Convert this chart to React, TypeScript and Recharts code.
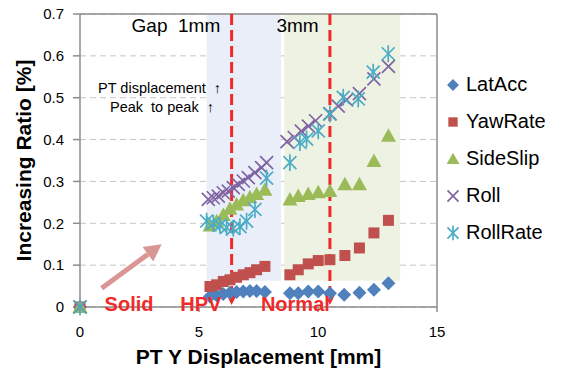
import React from "react";
import {
  ScatterChart,
  Scatter,
  XAxis,
  YAxis,
  CartesianGrid,
  ReferenceArea,
  ReferenceLine,
  ReferenceDot,
} from "recharts";

// [PT Y displacement mm, increasing ratio %]
const latAcc = [
  [0, 0], [5.46, 0.025], [5.74, 0.028], [6.02, 0.031], [6.3, 0.034], [6.58, 0.036],
  [6.86, 0.037], [7.14, 0.038], [7.42, 0.038], [7.77, 0.036], [8.82, 0.033], [9.17, 0.033],
  [9.59, 0.037], [10.01, 0.037], [10.5, 0.033], [11.1, 0.029], [11.74, 0.034], [12.35, 0.041],
  [12.96, 0.057],
];
const yawRate = [
  [0, 0], [5.46, 0.049], [5.74, 0.053], [6.02, 0.061], [6.3, 0.065], [6.58, 0.071],
  [6.86, 0.077], [7.14, 0.082], [7.42, 0.089], [7.77, 0.097], [8.82, 0.077], [9.17, 0.089],
  [9.59, 0.103], [10.01, 0.111], [10.5, 0.113], [11.13, 0.123], [11.74, 0.141], [12.35, 0.177],
  [12.96, 0.207],
];
const sideSlip = [
  [0, 0], [5.46, 0.195], [5.74, 0.205], [6.02, 0.22], [6.3, 0.235], [6.58, 0.245],
  [6.86, 0.255], [7.14, 0.262], [7.42, 0.27], [7.77, 0.28], [8.82, 0.257], [9.17, 0.265],
  [9.59, 0.27], [10.01, 0.274], [10.5, 0.277], [11.13, 0.293], [11.74, 0.293], [12.35, 0.349],
  [12.96, 0.409],
];
const roll = [
  [0, 0], [5.39, 0.257], [5.6, 0.261], [5.81, 0.265], [6.02, 0.273], [6.23, 0.277],
  [6.44, 0.285], [6.65, 0.293], [6.86, 0.301], [7.07, 0.309], [7.35, 0.321], [7.63, 0.333],
  [7.84, 0.345], [8.7, 0.395], [9.0, 0.405], [9.3, 0.42], [9.6, 0.432], [9.9, 0.445],
  [10.5, 0.462], [10.85, 0.48], [11.2, 0.495], [11.74, 0.51], [12.35, 0.545], [12.96, 0.575],
];
const rollRate = [
  [0, 0], [5.32, 0.205], [5.6, 0.2], [5.88, 0.195], [6.16, 0.19], [6.44, 0.188],
  [6.72, 0.192], [7.0, 0.205], [7.35, 0.233], [7.84, 0.308], [8.82, 0.345], [9.24, 0.393],
  [9.52, 0.401], [10.01, 0.421], [10.5, 0.461], [11.06, 0.501], [11.69, 0.497], [12.32, 0.561],
  [12.95, 0.605],
];

const xTicks = [0, 5, 10, 15];
const yTicks = [0, 0.1, 0.2, 0.3, 0.4, 0.5, 0.6, 0.7];

// shaded gap regions
const gapRegions = [
  { name: "1mm", x1: 5.32, x2: 8.45, y1: 0.063, fill: "#e9eef8" },
  { name: "3mm", x1: 8.58, x2: 13.45, y1: 0.063, fill: "#eef2e3" },
];
const markerLines = [6.37, 10.5];

const FONT = "'Liberation Sans', Arial, Helvetica, sans-serif";
const RED = "#f02a2a";

const toPts = (arr: number[][]) => arr.map(([x, y]) => ({ x, y }));

type MarkerKind = "diamond" | "square" | "triangle" | "x" | "star";

function Marker({ kind, cx, cy, color, s = 1 }: { kind: MarkerKind; cx: number; cy: number; color: string; s?: number }) {
  if (kind === "diamond") {
    const r = 7 * s;
    return <polygon points={`${cx},${cy - r} ${cx + r},${cy} ${cx},${cy + r} ${cx - r},${cy}`} fill={color} />;
  }
  if (kind === "square") {
    const h = 5.5 * s;
    return <rect x={cx - h} y={cy - h} width={h * 2} height={h * 2} fill={color} />;
  }
  if (kind === "triangle") {
    return (
      <polygon
        points={`${cx},${cy - 7.5 * s} ${cx + 7.5 * s},${cy + 6 * s} ${cx - 7.5 * s},${cy + 6 * s}`}
        fill={color}
      />
    );
  }
  const r = 6.5 * s;
  return (
    <g stroke={color} strokeWidth={1.7}>
      <line x1={cx - r} y1={cy - r} x2={cx + r} y2={cy + r} />
      <line x1={cx - r} y1={cy + r} x2={cx + r} y2={cy - r} />
      {kind === "star" && <line x1={cx} y1={cy - r * 1.3} x2={cx} y2={cy + r * 1.3} />}
    </g>
  );
}

const seriesList: { name: string; data: number[][]; color: string; kind: MarkerKind }[] = [
  { name: "LatAcc", data: latAcc, color: "#4f81bd", kind: "diamond" },
  { name: "YawRate", data: yawRate, color: "#c0504d", kind: "square" },
  { name: "SideSlip", data: sideSlip, color: "#9bbb59", kind: "triangle" },
  { name: "Roll", data: roll, color: "#8064a2", kind: "x" },
  { name: "RollRate", data: rollRate, color: "#4bacc6", kind: "star" },
];

function LegendBox() {
  return (
    <div style={{ position: "absolute", left: 443, top: 66, fontFamily: FONT, fontSize: 20, color: "#000" }}>
      {seriesList.map((s) => (
        <div key={s.name} style={{ height: 37, display: "flex", alignItems: "center" }}>
          <svg width={20} height={20} style={{ marginRight: 3 }}>
            <Marker kind={s.kind} cx={10} cy={10} color={s.color} s={0.85} />
          </svg>
          <span>{s.name}</span>
        </div>
      ))}
    </div>
  );
}

const textShape = (txt: string, size: number, opts: { bold?: boolean; color?: string; anchor?: string } = {}) =>
  (p: any) => (
    <text
      x={p.cx}
      y={p.cy}
      fontFamily={FONT}
      fontSize={size}
      fontWeight={opts.bold ? "bold" : "normal"}
      fill={opts.color || "#000"}
      textAnchor={opts.anchor || "middle"}
      dominantBaseline="central"
      style={{ whiteSpace: "pre" }}
    >
      {txt}
    </text>
  );

const dashedArrow = (p: any) => {
  const { x1, y1, x2, y2 } = p;
  const head = 13;
  return (
    <g>
      <line x1={x1} y1={y1} x2={x2} y2={y2 - head} stroke={RED} strokeWidth={3} strokeDasharray="11 5" />
      <polygon points={`${x2 - 6.5},${y2 - head} ${x2 + 6.5},${y2 - head} ${x2},${y2}`} fill={RED} />
    </g>
  );
};

const pinkArrow = (p: any) => {
  const { x1, y1, x2, y2 } = p;
  const dx = x2 - x1;
  const dy = y2 - y1;
  const len = Math.sqrt(dx * dx + dy * dy);
  const ux = dx / len;
  const uy = dy / len;
  const hl = 17;
  const hw = 9;
  const bx = x2 - ux * hl;
  const by = y2 - uy * hl;
  return (
    <g>
      <line x1={x1} y1={y1} x2={bx} y2={by} stroke="#d99694" strokeWidth={5} />
      <polygon
        points={`${x2},${y2} ${bx - uy * hw},${by + ux * hw} ${bx + uy * hw},${by - ux * hw}`}
        fill="#d99694"
      />
    </g>
  );
};

export default function App() {
  return (
    <div style={{ position: "relative", width: 562, height: 376, background: "#fff" }}>
      <style>{`body{margin:0}`}</style>
      <ScatterChart width={562} height={376} margin={{ top: 14, right: 125, bottom: 9, left: 10 }}>
        {gapRegions.map((g) => (
          <ReferenceArea
            key={g.name}
            x1={g.x1}
            x2={g.x2}
            y1={g.y1}
            y2={0.7}
            fill={g.fill}
            fillOpacity={1}
            stroke="none"
          />
        ))}
        <CartesianGrid vertical={false} stroke="#c6c6c6" strokeDasharray="6 4" />
        <XAxis
          type="number"
          dataKey="x"
          domain={[0, 15]}
          ticks={xTicks}
          height={60}
          tickSize={5}
          tickMargin={14}
          stroke="#8c8c8c"
          strokeWidth={1.5}
          tick={{ fill: "#000", fontSize: 15, fontFamily: FONT }}
          label={{
            value: "PT Y Displacement [mm]",
            position: "insideBottom",
            offset: 3,
            style: { fontFamily: FONT, fontSize: 21, fontWeight: "bold", fill: "#000" },
          }}
        />
        <YAxis
          type="number"
          dataKey="y"
          domain={[0, 0.7]}
          ticks={yTicks}
          width={70}
          tickSize={7}
          tickMargin={9}
          stroke="#8c8c8c"
          strokeWidth={1.5}
          tickFormatter={(v: number) => (v === 0 ? "0" : v.toFixed(1))}
          tick={{ fill: "#000", fontSize: 15, fontFamily: FONT }}
          label={{
            value: "Increasing Ratio [%]",
            angle: -90,
            position: "insideLeft",
            offset: 14,
            style: { textAnchor: "middle", fontFamily: FONT, fontSize: 21, fontWeight: "bold", fill: "#000" },
          }}
        />
        <ReferenceLine y={0.7} stroke="#8c8c8c" strokeWidth={1.5} />
        <ReferenceLine x={15} stroke="#8c8c8c" strokeWidth={1.5} />

        {markerLines.map((x) => (
          <ReferenceLine
            key={x}
            segment={[{ x, y: 0.7 }, { x, y: 0.005 }]}
            shape={dashedArrow}
          />
        ))}
        <ReferenceLine segment={[{ x: 0.91, y: 0.045 }, { x: 3.43, y: 0.15 }]} shape={pinkArrow} />

        <ReferenceDot x={4.03} y={0.672} r={0} shape={textShape("Gap  1mm", 19)} />
        <ReferenceDot x={9.14} y={0.672} r={0} shape={textShape("3mm", 19)} />
        <ReferenceDot x={0.76} y={0.523} r={0} shape={textShape("PT displacement  \u2191", 14.5, { anchor: "start" })} />
        <ReferenceDot x={1.26} y={0.479} r={0} shape={textShape("Peak  to peak  \u2191", 14.5, { anchor: "start" })} />

        {seriesList.map((s) => (
          <Scatter
            key={s.name}
            name={s.name}
            data={toPts(s.data)}
            fill={s.color}
            isAnimationActive={false}
            shape={(p: any) => <Marker kind={s.kind} cx={p.cx} cy={p.cy} color={s.color} />}
          />
        ))}
        <ReferenceDot x={2.06} y={0.007} r={0} shape={textShape("Solid", 20, { bold: true, color: RED })} />
        <ReferenceDot x={5.08} y={0.007} r={0} shape={textShape("HPV", 20, { bold: true, color: RED })} />
        <ReferenceDot x={9.05} y={0.007} r={0} shape={textShape("Normal", 20, { bold: true, color: RED })} />
      </ScatterChart>
      <LegendBox />
    </div>
  );
}
